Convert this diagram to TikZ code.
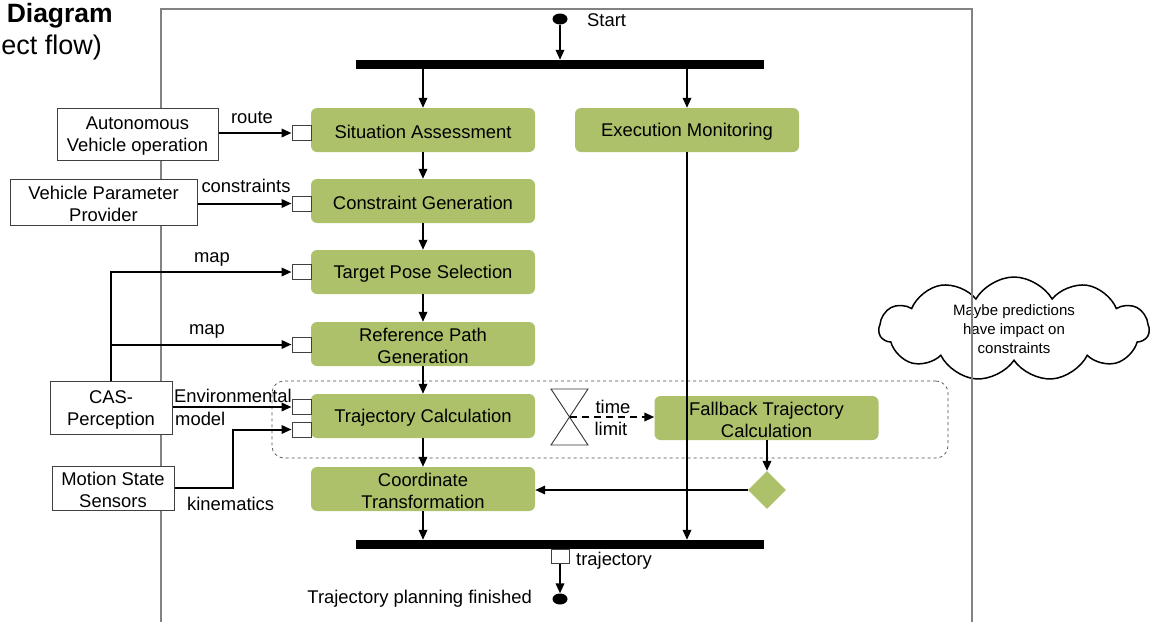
\documentclass[tikz,border=0pt]{standalone}
\usepackage{fontspec}
\setmainfont{Liberation Sans}
\usetikzlibrary{arrows.meta,shapes.geometric,shapes.symbols}
\definecolor{actgreen}{RGB}{173,192,106}
\definecolor{framegray}{RGB}{130,130,130}
\begin{document}
\begin{tikzpicture}[x=1pt,y=-1pt,
  font=\fontsize{18.4}{22}\selectfont,
  boxtext/.style={label={[inner sep=0pt,align=center,yshift=-2pt]center:#1}},
  act/.style={rectangle,rounded corners=6pt,fill=actgreen,minimum width=224pt,minimum height=44pt,inner sep=0pt},
  extbox/.style={rectangle,draw=black!75,line width=1pt,fill=white,inner sep=0pt},
  pinbox/.style={rectangle,draw=black!75,line width=1pt,fill=white,minimum width=19pt,minimum height=15pt,inner sep=0pt},
  syncbar/.style={rectangle,fill=black,minimum width=408pt,minimum height=9pt,inner sep=0pt},
  endpoint/.style={ellipse,fill=black,minimum width=15pt,minimum height=11pt,inner sep=0pt},
  flow/.style={-{Triangle[length=10pt,width=8.5pt]},line width=2pt},
  lbl/.style={inner sep=0pt}]
\useasboundingbox (0,0) rectangle (1154,622);

% title fragment
\node[lbl,anchor=east,font=\fontsize{26.5}{30}\selectfont\bfseries] (title) at (113,16) {Diagram};
\node[lbl,anchor=east,font=\fontsize{27}{30}\selectfont] (subtitle) at (102,48) {ect flow)};

% note cloud (drawn below the frame)
\node[cloud,draw=black,line width=1.5pt,cloud puffs=11,cloud puff arc=120,aspect=2.6,
      minimum width=270pt,minimum height=104pt,inner sep=0pt,align=center,
      font=\fontsize{15}{19}\selectfont] (note) at (1014,329)
  {Maybe predictions\\have impact on\\constraints};

% surrounding frame
\draw[framegray,line width=1.5pt] (161,622) -- (161,9) -- (972,9) -- (972,622);

% group around the trajectory calculation
\node[rectangle,draw=black!70,dashed,line width=0.7pt,rounded corners=12pt,
      minimum width=676pt,minimum height=77pt,inner sep=0pt] (grp) at (610,419.5) {};

% start / end
\node[endpoint] (start) at (560,19) {};
\node[lbl,anchor=west] (startlbl) at (587,20) {Start};
\node[syncbar] (bartop) at (560,64.5) {};
\node[syncbar] (barbot) at (560,544.5) {};

% activities
\node[act,boxtext={Situation Assessment}] (sa) at (423,130) {};
\node[act,boxtext={Execution Monitoring}] (em) at (687,130) {};
\node[act,boxtext={Constraint Generation}] (cg) at (423,201) {};
\node[act,boxtext={Target Pose Selection}] (tp) at (423,272) {};
\node[act,boxtext={Reference Path\\Generation}] (rp) at (423,344) {};
\node[act,boxtext={Trajectory Calculation}] (tc) at (423,416) {};
\node[act,boxtext={Fallback Trajectory\\Calculation}] (fb) at (766.5,418) {};
\node[act,boxtext={Coordinate\\Transformation}] (ct) at (423,489) {};
\node[diamond,fill=actgreen,minimum width=38pt,minimum height=38pt,inner sep=0pt] (dec) at (767,490) {};

% input pins
\node[pinbox] (psa) at (301.5,133) {};
\node[pinbox] (pcg) at (301.5,203.5) {};
\node[pinbox] (ptp) at (301.5,272) {};
\node[pinbox] (prp) at (301.5,344.5) {};
\node[pinbox] (ptc1) at (301.5,407) {};
\node[pinbox] (ptc2) at (301.5,429.5) {};
\node[pinbox,minimum width=18pt,minimum height=14pt] (pout) at (560,556) {};

% external sources
\node[extbox,minimum width=161pt,minimum height=52pt,boxtext={Autonomous\\Vehicle operation}] (avo) at (137.5,134) {};
\node[extbox,minimum width=187pt,minimum height=46pt,boxtext={Vehicle Parameter\\Provider}] (vpp) at (103.5,202) {};
\node[extbox,minimum width=122pt,minimum height=53pt,boxtext={CAS-\\Perception}] (cas) at (111,407.5) {};
\node[extbox,minimum width=122pt,minimum height=44pt,boxtext={Motion State\\Sensors}] (mss) at (113,488) {};

% hourglass (time event)
\coordinate (hg) at (569.5,417);
\draw[black!80,line width=0.9pt] (551,389) -- (588,389) -- (551,445) -- (588,445) -- cycle;

% control flow
\draw[flow] (start) -- (start |- bartop.north);
\draw[flow] (bartop.south -| sa.north) -- (sa.north);
\draw[flow] (bartop.south -| em.north) -- (em.north);
\draw[flow] (sa) -- (cg);
\draw[flow] (cg) -- (tp);
\draw[flow] (tp) -- (rp);
\draw[flow] (rp) -- (tc);
\draw[flow] (tc) -- (ct);
\draw[flow] (ct.south) -- (ct.south |- barbot.north);
\draw[flow] (em.south) -- (em.south |- barbot.north);
\draw[flow] (fb.south -| dec.north) -- (dec.north);
\draw[flow] (dec.west) -- (ct.east |- dec.west);
\draw[flow,dash pattern=on 7pt off 5pt] (hg) -- (fb.west |- hg);
\node[lbl] (tlim1) at (613,407) {time};
\node[lbl] (tlim2) at (611,429) {limit};
\node[endpoint] (finish) at (560,599) {};
\draw[flow] (pout.south) -- (finish.north);
\node[lbl,anchor=west] (trajlbl) at (576,561) {trajectory};
\node[lbl,anchor=east] (finlbl) at (532,599) {Trajectory planning finished};

% object flow
\draw[flow] (avo.east |- psa.west) -- (psa.west);
\node[lbl] (lroute) at (252,118) {route};
\draw[flow] (vpp.east |- pcg.west) -- (pcg.west);
\node[lbl] (lcons) at (246,186) {constraints};
\draw[flow] (cas.north) |- (ptp.west);
\node[lbl] (lmap1) at (212,259) {map};
\draw[flow] (cas.north |- prp.west) -- (prp.west);
\node[lbl] (lmap2) at (207,331) {map};
\draw[flow] (cas.east |- ptc1.west) -- (ptc1.west);
\node[lbl,anchor=west] (lenv1) at (174,396) {Environmental};
\node[lbl,anchor=west] (lenv2) at (175,419) {model};
\draw[flow] (mss.east) -- ++(58,0) |- (ptc2.west);
\node[lbl,anchor=west] (lkin) at (187,504) {kinematics};
\end{tikzpicture}
\end{document}
